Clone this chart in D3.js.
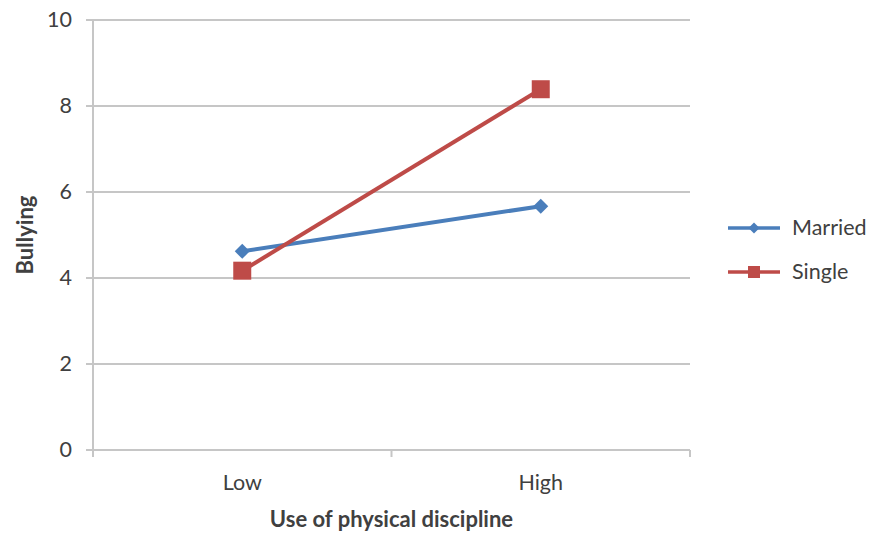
<!DOCTYPE html>
<html><head><meta charset="utf-8">
<script src="https://cdn.jsdelivr.net/npm/d3@7"></script>
<style>body{margin:0;background:#fff}svg{display:block}text{font-family:Lato,"Open Sans",sans-serif;fill:#404040}</style>
</head><body><svg id="c" width="872" height="535"></svg>
<script>
const categories = ["Low", "High"];
const married = [4.62, 5.67];
const single = [4.17, 8.39];
const yTicks = [0, 2, 4, 6, 8, 10];
const seriesNames = ["Married", "Single"];

const svg = d3.select("#c");
const m = {l: 93, r: 182, t: 20, b: 85};
const W = 872, H = 535;
const x = d3.scaleBand().domain(categories).range([m.l, W - m.r]);
const y = d3.scaleLinear().domain([0, 10]).range([H - m.b, m.t]);
const fs = "21.5px";

// gridlines
svg.append("g").selectAll("line").data(yTicks).join("line")
  .attr("x1", m.l - 7).attr("x2", W - m.r)
  .attr("y1", d => y(d)).attr("y2", d => y(d))
  .attr("stroke", "#c6c6c6").attr("stroke-width", 2);

// y axis
const ya = svg.append("g").attr("transform", `translate(${m.l},0)`)
  .call(d3.axisLeft(y).tickValues(yTicks).tickSize(0).tickPadding(21));
ya.select(".domain").remove();
ya.selectAll("text").style("font-size", fs).attr("fill", "#3a3a3a");
svg.append("line").attr("x1", m.l).attr("x2", m.l).attr("y1", m.t).attr("y2", y(0) + 7)
  .attr("stroke", "#c6c6c6").attr("stroke-width", 2);

// x axis
const xa = svg.append("g").attr("transform", `translate(0,${y(0)})`)
  .call(d3.axisBottom(x).tickSize(0).tickPadding(25));
xa.select(".domain").remove();
xa.selectAll("text").style("font-size", fs).attr("fill", "#3a3a3a");
const bounds = [m.l, ...categories.map(c => x(c) + x.bandwidth())];
svg.append("g").selectAll("line").data(bounds).join("line")
  .attr("x1", d => d).attr("x2", d => d).attr("y1", y(0)).attr("y2", y(0) + 7)
  .attr("stroke", "#c6c6c6").attr("stroke-width", 2);

// axis titles
svg.append("text").attr("x", (m.l + W - m.r) / 2).attr("y", 527).attr("text-anchor", "middle")
  .style("font-size", "22px").style("font-weight", "bold").attr("fill", "#262626").text("Use of physical discipline");
svg.append("text").attr("transform", `translate(33,${(m.t + H - m.b) / 2}) rotate(-90)`)
  .attr("text-anchor", "middle").style("font-size", "22px").style("font-weight", "bold").attr("fill", "#262626").text("Bullying");

const colors = ["#4a7ebb", "#be4b48"];
const data = [married, single];
const line = d3.line().x((d, i) => x(categories[i]) + x.bandwidth() / 2).y(d => y(d));

data.forEach((vals, s) => {
  svg.append("path").datum(vals).attr("d", line).attr("fill", "none")
    .attr("stroke", colors[s]).attr("stroke-width", 4);
  const size = s === 0 ? 15 : 18;
  svg.append("g").selectAll("path").data(vals).join("path")
    .attr("transform", (d, i) => `translate(${x(categories[i]) + x.bandwidth() / 2},${y(d)})`)
    .attr("d", s === 0
      ? `M0,${-size/2}L${size/2},0L0,${size/2}L${-size/2},0Z`
      : `M${-size/2},${-size/2}h${size}v${size}h${-size}Z`)
    .attr("fill", colors[s]);
});

// legend
seriesNames.forEach((n, s) => {
  const ly = 228 + s * 44;
  const g = svg.append("g");
  g.append("line").attr("x1", 728).attr("x2", 780).attr("y1", ly).attr("y2", ly)
    .attr("stroke", colors[s]).attr("stroke-width", 3.5);
  const k = s === 0 ? 11 : 12;
  g.append("path").attr("transform", `translate(754,${ly})`)
    .attr("d", s === 0 ? `M0,${-k/2}L${k/2},0L0,${k/2}L${-k/2},0Z` : `M${-k/2},${-k/2}h${k}v${k}h${-k}Z`)
    .attr("fill", colors[s]);
  g.append("text").attr("x", 792).attr("y", ly + 7).style("font-size", fs).attr("fill", "#3a3a3a").text(n);
});
</script></body></html>
